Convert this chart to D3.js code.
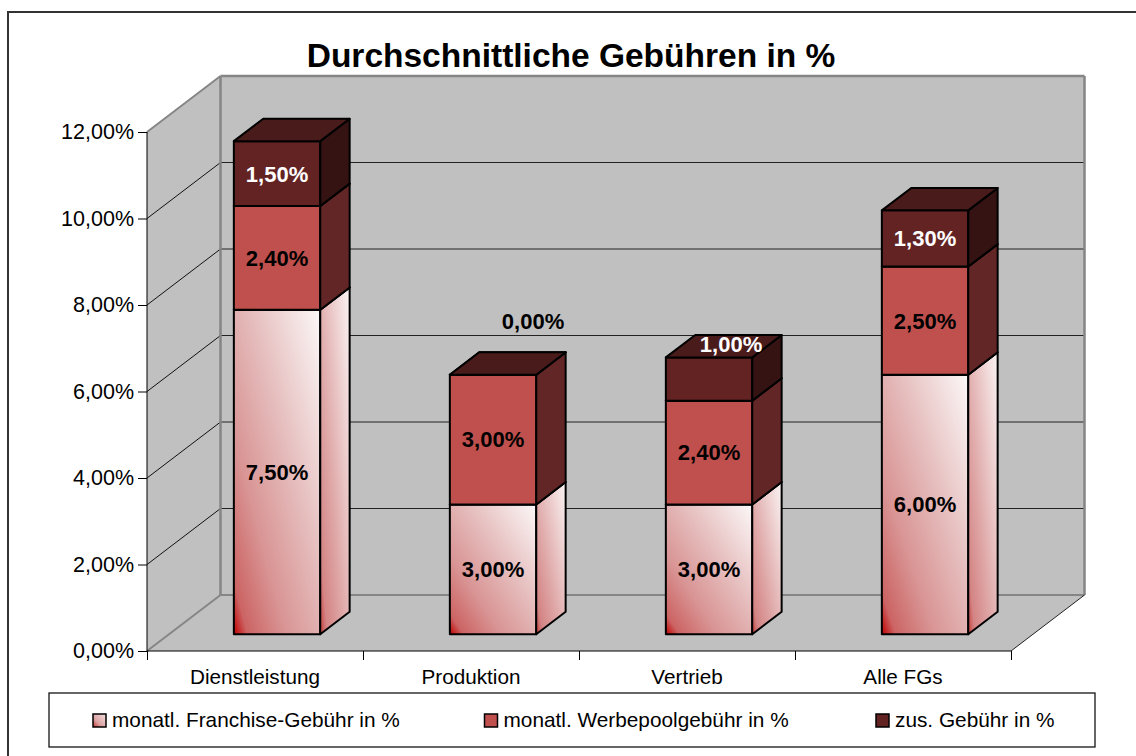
<!DOCTYPE html>
<html>
<head>
<meta charset="utf-8">
<script src="https://cdn.jsdelivr.net/npm/d3@7"></script>
<style>
  html, body { margin: 0; padding: 0; background: #fff; }
  svg { display: block; font-family: Arial, "Liberation Sans", sans-serif; }
</style>
</head>
<body>
<svg id="chart" width="1136" height="756"></svg>
<script>
// ---------------- data ----------------
const title = "Durchschnittliche Gebühren in %";
const categories = ["Dienstleistung", "Produktion", "Vertrieb", "Alle FGs"];
const seriesNames = ["monatl. Franchise-Gebühr in %", "monatl. Werbepoolgebühr in %", "zus. Gebühr in %"];
const franchise = [7.5, 3.0, 3.0, 6.0];
const werbepool = [2.4, 3.0, 2.4, 2.5];
const zusatz    = [1.5, 0.0, 1.0, 1.3];
const yTicks = [0, 2, 4, 6, 8, 10, 12];

// ---------------- layout / style ----------------
const W = 1136, H = 756;
const plot = { left: 147, right: 1011, bottom: 651, top: 132 };
const depth = { dx: 73.5, dy: 56 };
const barFrac = 0.4;            // bar width relative to band
const barDepth = [0.3, 0.7];    // front/back depth fraction of bars
const labelNudge = { "Produktion|2": [40, -54], "Vertrieb|2": [22, -35] };

const colors = {
  wall: "#c0c0c0", wallEdge: "#858585",
  s2Front: "#c0504d", s2Side: "#632626",
  s3Front: "#632323", s3Side: "#341312", s3Top: "#4a1b1b"
};

const svg = d3.select("#chart");
const defs = svg.append("defs");

function grad(id, stops) {
  const g = defs.append("linearGradient").attr("id", id)
    .attr("x1", 0).attr("y1", 1).attr("x2", 1).attr("y2", 0);
  stops.forEach(s => g.append("stop").attr("offset", s[0]).attr("stop-color", s[1]));
}
grad("s1front", [[0, "#c00000"], [0.08, "#cc6464"], [0.3, "#d99494"], [0.6, "#e6bebe"], [1, "#fcf8f8"]]);
grad("s1side",  [[0, "#c43c3c"], [0.12, "#d48484"], [0.45, "#e1adad"], [1, "#fbf4f4"]]);
grad("s1legend",[[0, "#c03030"], [0.35, "#dca0a0"], [1, "#f4e0e0"]]);

const faceStyle = [
  { front: "url(#s1front)", side: "url(#s1side)", top: "#f0dada" },
  { front: colors.s2Front, side: colors.s2Side, top: "#8a3a38" },
  { front: colors.s3Front, side: colors.s3Side, top: colors.s3Top }
];

// ---------------- scales ----------------
const x = d3.scaleBand().domain(categories).range([plot.left, plot.right]).padding(0);
const y = d3.scaleLinear().domain([0, 12]).range([plot.bottom, plot.top]);
const xEdge = d3.scaleLinear().domain([0, categories.length]).range([plot.left, plot.right]);
const P = (px, v, d) => [px + d * depth.dx, y(v) - d * depth.dy];
const poly = pts => "M" + pts.map(p => p.join(",")).join("L") + "Z";

// ---------------- outer frame ----------------
svg.append("rect").attr("x", 8).attr("y", 12).attr("width", 1300).attr("height", 900)
  .attr("fill", "none").attr("stroke", "#333").attr("stroke-width", 2);

// ---------------- title ----------------
svg.append("text").attr("x", 571).attr("y", 67).attr("text-anchor", "middle")
  .attr("font-size", 33.5).attr("font-weight", "bold").attr("fill", "#000").text(title);

// ---------------- walls ----------------
const yMax = 12, L = plot.left, R = plot.right;
const walls = svg.append("g");
walls.append("path").attr("d", poly([P(L, 0, 0), P(L, yMax, 0), P(L, yMax, 1), P(L, 0, 1)])).attr("fill", colors.wall);
walls.append("path").attr("d", poly([P(L, 0, 1), P(L, yMax, 1), P(R, yMax, 1), P(R, 0, 1)])).attr("fill", colors.wall);
walls.append("path").attr("d", poly([P(L, 0, 0), P(R, 0, 0), P(R, 0, 1), P(L, 0, 1)])).attr("fill", colors.wall);

// gridlines
const inner = yTicks.filter(t => t > 0 && t < yMax);
walls.selectAll(".gb").data(inner).join("path")
  .attr("d", t => "M" + P(L, t, 1) + "L" + P(R, t, 1))
  .attr("stroke", "#222").attr("stroke-width", 1).attr("fill", "none");
walls.selectAll(".gs").data(inner).join("path")
  .attr("d", t => "M" + P(L, t, 0) + "L" + P(L, t, 1))
  .attr("stroke", "#111").attr("stroke-width", 1).attr("fill", "none");

// wall edges (gray)
const edge = (a, b, c, w) => walls.append("path").attr("d", "M" + a + "L" + b)
  .attr("stroke", c).attr("stroke-width", w).attr("fill", "none");
edge(P(L, yMax, 0), P(L, yMax, 1), colors.wallEdge, 2);
edge(P(L, 0, 0), P(L, 0, 1), colors.wallEdge, 2);
edge(P(L, 0, 1), P(L, yMax, 1), colors.wallEdge, 2.5);
edge(P(L, yMax, 1), P(R, yMax, 1), colors.wallEdge, 2.5);
edge(P(R, yMax, 1), P(R, 0, 1), colors.wallEdge, 2.5);
edge(P(L, 0, 1), P(R, 0, 1), colors.wallEdge, 2);
edge(P(R, 0, 0), P(R, 0, 1), "#222", 1);

// ---------------- axes ----------------
const fmt = v => d3.format(".2f")(v).replace(".", ",") + "%";
const yAxis = svg.append("g").attr("transform", `translate(${L},0)`)
  .call(d3.axisLeft(y).tickValues(yTicks).tickFormat(fmt).tickSize(9).tickPadding(4));
yAxis.select(".domain").attr("stroke", "#000").attr("d", `M0,${y(yMax)}V${y(0)}`);
yAxis.selectAll(".tick line").attr("stroke", "#000");
yAxis.selectAll("text").attr("font-size", 21.5).attr("fill", "#000").attr("font-family", null);

const xTickAxis = svg.append("g").attr("transform", `translate(0,${plot.bottom})`)
  .call(d3.axisBottom(xEdge).tickValues(d3.range(categories.length + 1)).tickFormat("").tickSize(9));
xTickAxis.selectAll("line,path").attr("stroke", "#000");
xTickAxis.select(".domain").attr("d", `M${L},0H${R}`);

const xLab = svg.append("g").attr("transform", `translate(0,${plot.bottom})`)
  .call(d3.axisBottom(x).tickSize(0).tickPadding(18));
xLab.select(".domain").remove();
xLab.selectAll("text").attr("font-size", 20.7).attr("fill", "#000").attr("font-family", null);

// ---------------- bars ----------------
const rows = categories.map((c, i) => ({ cat: c, s0: franchise[i], s1: werbepool[i], s2: zusatz[i] }));
const stacked = d3.stack().keys(["s0", "s1", "s2"])(rows);

const bw = x.bandwidth() * barFrac;
const bars = svg.append("g");
const [d0, d1] = barDepth;
const labels = [];
categories.forEach((c, ci) => {
  const xl = x(c) + (x.bandwidth() - bw) / 2, xr = xl + bw;
  const g = bars.append("g");
  stacked.forEach((ser, si) => {
    const [v0, v1] = ser[ci];
    const st = faceStyle[si];
    const common = sel => sel.attr("stroke", "#000").attr("stroke-width", 2).attr("stroke-linejoin", "round");
    g.append("path").attr("d", poly([P(xl, v0, d0), P(xr, v0, d0), P(xr, v1, d0), P(xl, v1, d0)])).attr("fill", st.front).call(common);
    g.append("path").attr("d", poly([P(xr, v0, d0), P(xr, v0, d1), P(xr, v1, d1), P(xr, v1, d0)])).attr("fill", st.side).call(common);
    g.append("path").attr("d", poly([P(xl, v1, d0), P(xr, v1, d0), P(xr, v1, d1), P(xl, v1, d1)])).attr("fill", st.top).call(common);
    const val = v1 - v0;
    const nud = labelNudge[c + "|" + si] || [0, 0];
    const cx = (xl + xr) / 2 + d0 * depth.dx + nud[0];
    const cy = (y(v0) + y(v1)) / 2 - d0 * depth.dy + nud[1];
    labels.push({ x: cx, y: cy, text: fmt(val), fill: (si === 2 && val > 0) ? "#fff" : "#000" });
  });
});

svg.append("g").selectAll("text").data(labels).join("text")
  .attr("x", d => d.x).attr("y", d => d.y).attr("dy", "0.36em")
  .attr("text-anchor", "middle").attr("font-size", 22).attr("font-weight", "bold")
  .attr("fill", d => d.fill).text(d => d.text);

// ---------------- legend ----------------
const legend = svg.append("g");
legend.append("rect").attr("x", 49).attr("y", 693).attr("width", 1046).attr("height", 54)
  .attr("fill", "#fff").attr("stroke", "#000").attr("stroke-width", 1.2);
const legendFill = ["url(#s1legend)", colors.s2Front, colors.s3Front];
const legX = d3.scalePoint().domain(seriesNames).range([93, 876]);
const li = legend.selectAll(".li").data(seriesNames).join("g")
  .attr("transform", d => `translate(${legX(d)},714)`);
li.append("rect").attr("width", 13).attr("height", 13)
  .attr("fill", (d, i) => legendFill[i]).attr("stroke", "#000").attr("stroke-width", 1.5);
li.append("text").attr("x", 19).attr("y", 13).attr("font-size", 20.8).attr("fill", "#000").text(d => d);
</script>
</body>
</html>
